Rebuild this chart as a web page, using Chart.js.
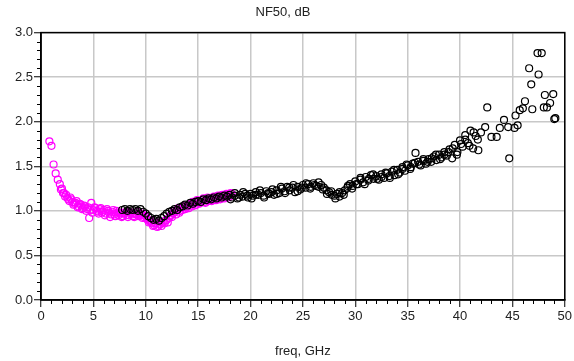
<!DOCTYPE html>
<html>
<head>
<meta charset="utf-8">
<script src="https://cdn.jsdelivr.net/npm/chart.js@4"></script>
<style>
  body { margin: 0; background: #fff; }
</style>
</head>
<body>
<canvas id="nf" width="574" height="361"></canvas>
<script>
// NF50 measured (magenta) and extended sweep (black), two passes each

var magFreq = [0.8, 1.0, 1.2, 1.4, 1.6, 1.8, 2.0, 2.2, 2.4, 2.6, 2.8, 3.0, 3.2, 3.4, 3.6, 3.8, 4.0, 4.2, 4.4, 4.6,
    4.8, 5.0, 5.2, 5.4, 5.6, 5.8, 6.0, 6.2, 6.4, 6.6, 6.8, 7.0, 7.2, 7.4, 7.6, 7.8, 8.0, 8.2, 8.4, 8.6,
    8.8, 9.0, 9.2, 9.4, 9.6, 9.8, 10.0, 10.2, 10.4, 10.6, 10.8, 11.0, 11.2, 11.4, 11.6, 11.8, 12.0, 12.2, 12.4, 12.6,
    12.8, 13.0, 13.2, 13.4, 13.6, 13.8, 14.0, 14.2, 14.4, 14.6, 14.8, 15.0, 15.2, 15.4, 15.6, 15.8, 16.0, 16.2, 16.4, 16.6,
    16.8, 17.0, 17.2, 17.4, 17.6, 17.8, 18.0, 18.2];
var magNF = [1.78, 1.73, 1.52, 1.42, 1.35, 1.30, 1.25, 1.20, 1.18, 1.13, 1.15, 1.10, 1.08, 1.11, 1.05, 1.07, 1.03, 1.05, 1.02, 0.92,
    1.09, 1.01, 1.03, 0.99, 1.02, 0.98, 1.01, 0.97, 1.00, 0.93, 0.99, 0.96, 1.00, 0.95, 0.98, 0.94, 0.97, 0.99, 0.95, 0.98,
    0.94, 0.97, 0.99, 0.95, 0.97, 0.93, 0.94, 0.90, 0.88, 0.86, 0.84, 0.86, 0.83, 0.85, 0.87, 0.86, 0.90, 0.92, 0.95, 0.97,
    0.99, 1.01, 0.98, 1.03, 1.05, 1.02, 1.06, 1.08, 1.05, 1.09, 1.07, 1.11, 1.09, 1.12, 1.10, 1.13, 1.11, 1.14, 1.12, 1.15,
    1.13, 1.16, 1.14, 1.17, 1.15, 1.18, 1.16, 1.19];

var magFreq2 = [1.9, 2.1, 2.3, 2.5, 2.7, 2.9, 3.1, 3.3, 3.5, 3.7, 3.9, 4.1, 4.3, 4.5, 4.7, 4.9, 5.1, 5.3, 5.5, 5.7,
    5.9, 6.1, 6.3, 6.5, 6.7, 6.9, 7.1, 7.3, 7.5, 7.7, 7.9, 8.1, 8.3, 8.5, 8.7, 8.9, 9.1, 9.3, 9.5, 9.7,
    9.9, 10.1, 10.3, 10.5, 10.7, 10.9, 11.1, 11.3, 11.5, 11.7, 11.9, 12.1, 12.3, 12.5, 12.7, 12.9, 13.1, 13.3, 13.5, 13.7,
    13.9, 14.1, 14.3, 14.5, 14.7, 14.9, 15.1, 15.3, 15.5, 15.7, 15.9, 16.1, 16.3, 16.5, 16.7, 16.9, 17.1, 17.3, 17.5, 17.7,
    17.9, 18.1];
var magNF2 = [1.24, 1.20, 1.16, 1.15, 1.11, 1.13, 1.07, 1.09, 1.04, 1.08, 1.02, 1.06, 1.00, 1.04, 1.01, 0.98, 1.04, 1.00, 0.97, 1.03,
    0.99, 0.95, 1.02, 0.98, 0.96, 1.01, 0.94, 0.98, 0.97, 0.93, 0.98, 0.95, 0.93, 0.98, 0.96, 0.93, 0.96, 0.94, 0.97, 0.92,
    0.95, 0.91, 0.87, 0.89, 0.83, 0.86, 0.82, 0.87, 0.83, 0.88, 0.89, 0.87, 0.94, 0.93, 1.00, 0.96, 1.03, 1.00, 1.01, 1.06,
    1.04, 1.03, 1.07, 1.10, 1.06, 1.12, 1.08, 1.10, 1.14, 1.09, 1.15, 1.12, 1.11, 1.16, 1.12, 1.17, 1.13, 1.18, 1.14, 1.19,
    1.15, 1.20];

var blkFreq = [7.75, 8.0, 8.25, 8.5, 8.75, 9.0, 9.25, 9.5, 9.75, 10.0, 10.25, 10.5, 10.75, 11.0, 11.25, 11.5, 11.75, 12.0, 12.25, 12.5,
    12.75, 13.0, 13.25, 13.5, 13.75, 14.0, 14.25, 14.5, 14.75, 15.0, 15.25, 15.5, 15.75, 16.0, 16.25, 16.5, 16.75, 17.0, 17.25, 17.5,
    17.75, 18.0, 18.25, 18.5, 18.75, 19.0, 19.25, 19.5, 19.75, 20.0, 20.25, 20.5, 20.75, 21.0, 21.25, 21.5, 21.75, 22.0, 22.25, 22.5,
    22.75, 23.0, 23.25, 23.5, 23.75, 24.0, 24.25, 24.5, 24.75, 25.0, 25.25, 25.5, 25.75, 26.0, 26.25, 26.5, 26.75, 27.0, 27.25, 27.5,
    27.75, 28.0, 28.25, 28.5, 28.75, 29.0, 29.25, 29.5, 29.75, 30.0, 30.25, 30.5, 30.75, 31.0, 31.25, 31.5, 31.75, 32.0, 32.25, 32.5,
    32.75, 33.0, 33.25, 33.5, 33.75, 34.0, 34.25, 34.5, 34.75, 35.0, 35.25, 35.5, 35.75, 36.0, 36.25, 36.5, 36.75, 37.0, 37.25, 37.5,
    37.75, 38.0, 38.25, 38.5, 38.75, 39.0, 39.25, 39.5, 39.75, 40.0, 40.25, 40.5, 40.75, 41.0, 41.25, 41.5, 41.75,
    42.0, 42.4, 42.6, 43.0, 43.5, 43.8, 44.2, 44.6, 44.7, 45.2, 45.3, 45.5, 45.7, 46.0, 46.2, 46.6, 46.8, 46.9,
    47.4, 47.5, 47.8, 48.0, 48.1, 48.3, 48.6, 48.9, 49.0, 49.1];
var blkNF = [1.01, 1.02, 1.00, 1.02, 1.01, 1.02, 1.00, 1.02, 0.99, 0.97, 0.94, 0.92, 0.90, 0.91, 0.89, 0.92, 0.94, 0.97, 0.99, 1.00,
    1.02, 1.01, 1.04, 1.05, 1.07, 1.06, 1.09, 1.08, 1.10, 1.11, 1.10, 1.13, 1.12, 1.14, 1.13, 1.15, 1.14, 1.16, 1.15, 1.17,
    1.16, 1.18, 1.15, 1.17, 1.14, 1.18, 1.16, 1.19, 1.15, 1.19, 1.17, 1.21, 1.18, 1.20, 1.17, 1.22, 1.19, 1.21, 1.18, 1.23,
    1.20, 1.25, 1.22, 1.27, 1.23, 1.26, 1.21, 1.27, 1.24, 1.29, 1.26, 1.30, 1.27, 1.31, 1.28, 1.32, 1.29, 1.26, 1.23, 1.21,
    1.18, 1.17, 1.19, 1.16, 1.20, 1.23, 1.26, 1.30, 1.28, 1.33, 1.30, 1.35, 1.32, 1.38, 1.34, 1.40, 1.36, 1.39, 1.35, 1.41,
    1.37, 1.42, 1.39, 1.44, 1.40, 1.46, 1.43, 1.49, 1.45, 1.51, 1.47, 1.53, 1.65, 1.55, 1.51, 1.56, 1.53, 1.58, 1.55, 1.61,
    1.57, 1.63, 1.60, 1.66, 1.62, 1.69, 1.59, 1.74, 1.66, 1.79, 1.72, 1.85, 1.76, 1.90, 1.70, 1.84, 1.68,
    1.88, 1.94, 2.16, 1.83, 1.83, 1.93, 2.02, 1.94, 1.59, 1.93, 2.07, 1.96, 2.13, 2.15, 2.23, 2.60, 2.42, 2.14,
    2.77, 2.53, 2.77, 2.16, 2.30, 2.16, 2.21, 2.31, 2.03, 2.04];

var blkFreq2 = [18.1, 18.5, 18.9, 19.3, 19.7, 20.1, 20.5, 20.9, 21.3, 21.7, 22.1, 22.5, 22.9, 23.3, 23.7, 24.1, 24.5, 24.9, 25.3, 25.7,
    26.1, 26.5, 26.9, 27.3, 27.7, 28.1, 28.5, 28.9, 29.3, 29.7, 30.1, 30.5, 30.9, 31.3, 31.7, 32.1, 32.5, 32.9, 33.3, 33.7,
    34.1, 34.5, 34.9, 35.3, 35.7, 36.1, 36.5, 36.9, 37.3, 37.7, 38.1, 38.5, 38.9, 39.3, 39.7, 40.1, 40.5, 40.9, 41.3, 41.7];
var blkNF2 = [1.13, 1.20, 1.15, 1.21, 1.17, 1.14, 1.18, 1.23, 1.15, 1.20, 1.24, 1.19, 1.27, 1.20, 1.26, 1.29, 1.22, 1.26, 1.31, 1.25,
    1.29, 1.27, 1.24, 1.19, 1.22, 1.14, 1.21, 1.18, 1.28, 1.25, 1.30, 1.37, 1.30, 1.36, 1.41, 1.36, 1.38, 1.43, 1.37, 1.46,
    1.41, 1.47, 1.52, 1.49, 1.54, 1.52, 1.58, 1.55, 1.59, 1.63, 1.58, 1.63, 1.66, 1.70, 1.63, 1.75, 1.80, 1.73, 1.88, 1.80];

var xTicks = [0, 5, 10, 15, 20, 25, 30, 35, 40, 45, 50];
var yTicks = [0.0, 0.5, 1.0, 1.5, 2.0, 2.5, 3.0];

function pairs(xs, ys) {
    var out = [];
    var n = Math.min(xs.length, ys.length);
    for (var i = 0; i < n; i++) out.push({ x: xs[i], y: ys[i] });
    return out;
}

var font = { family: "'Liberation Sans', Arial, sans-serif", size: 13, weight: "normal" };

// frame + minor ticks
var frame = {
    id: "frame",
    afterDraw: function (chart) {
        var ctx = chart.ctx, a = chart.chartArea;
        var xs = chart.scales.x, ys = chart.scales.y;
        ctx.save();
        ctx.strokeStyle = "#000";
        ctx.lineWidth = 1;
        ctx.beginPath();
        for (var i = 0; i <= 50; i++) {
            if (i % 5 === 0) continue;
            var px = Math.round(xs.getPixelForValue(i)) + 0.5;
            ctx.moveTo(px, a.bottom);
            ctx.lineTo(px, a.bottom + 4);
        }
        for (var j = 0; j <= 30; j++) {
            if (j % 5 === 0) continue;
            var py = Math.round(ys.getPixelForValue(j / 10)) + 0.5;
            ctx.moveTo(a.left - 4, py);
            ctx.lineTo(a.left, py);
        }
        ctx.stroke();
        ctx.lineWidth = 1.5;
        ctx.strokeRect(a.left, a.top, a.right - a.left, a.bottom - a.top);
        ctx.restore();
    }
};

new Chart("nf", {
    type: "scatter",
    data: {
        datasets: [{
            data: pairs(blkFreq, blkNF).concat(pairs(blkFreq2, blkNF2)),
            borderColor: "#000",
            backgroundColor: "rgba(0,0,0,0)",
            pointRadius: 3.5,
            borderWidth: 1.2
        }, {
            data: pairs(magFreq, magNF).concat(pairs(magFreq2, magNF2)),
            borderColor: "#ff00ff",
            backgroundColor: "rgba(0,0,0,0)",
            pointRadius: 3.5,
            borderWidth: 1.2
        }]
    },
    options: {
        responsive: false,
        animation: false,
        devicePixelRatio: 1,
        layout: { padding: { left: 0, right: 8, top: 0, bottom: 0 } },
        plugins: {
            legend: { display: false },
            tooltip: { enabled: false },
            title: {
                display: true,
                text: "NF50, dB",
                color: "#222",
                font: font,
                padding: { top: 5, bottom: 12 }
            }
        },
        scales: {
            x: {
                type: "linear",
                min: 0,
                max: 50,
                afterBuildTicks: function (s) { s.ticks = xTicks.map(function (v) { return { value: v }; }); },
                afterFit: function (s) { s.height = 61; },
                ticks: { color: "#222", font: font, padding: 2, maxRotation: 0 },
                grid: { color: "#c8c8c8", lineWidth: 1.5, tickColor: "#000", tickLength: 7, tickWidth: 1 },
                border: { color: "#000", width: 1.5 },
                title: { display: true, text: "freq, GHz", color: "#222", font: font, padding: { top: 0, bottom: 2 } }
            },
            y: {
                type: "linear",
                min: 0,
                max: 3,
                afterBuildTicks: function (s) { s.ticks = yTicks.map(function (v) { return { value: v }; }); },
                afterFit: function (s) { s.width = 41; },
                ticks: { color: "#222", font: font, padding: 1, callback: function (v) { return v.toFixed(1); } },
                grid: { color: "#c8c8c8", lineWidth: 1.5, tickColor: "#000", tickLength: 7, tickWidth: 1 },
                border: { color: "#000", width: 1.5 }
            }
        }
    },
    plugins: [frame]
});
</script>
</body>
</html>
